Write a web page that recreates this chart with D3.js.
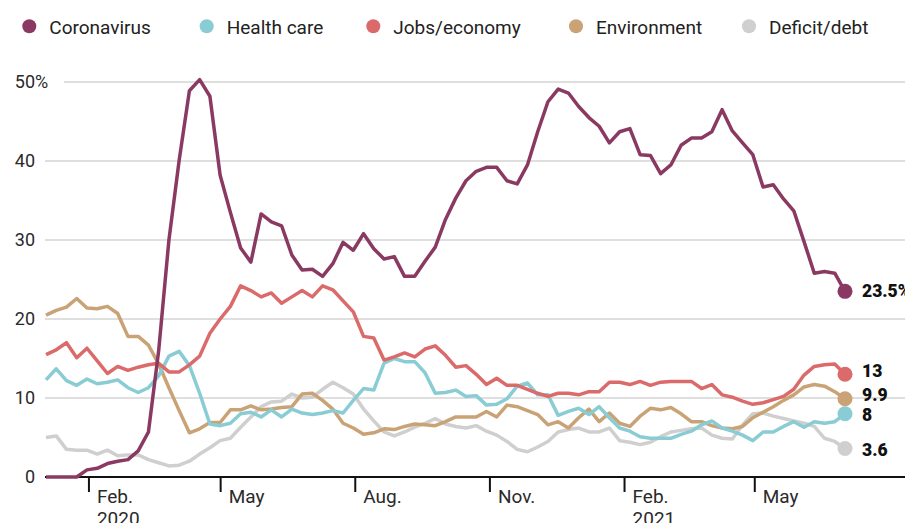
<!DOCTYPE html>
<html>
<head>
<meta charset="utf-8">
<script src="https://cdn.jsdelivr.net/npm/d3@7"></script>
<style>
  html, body { margin: 0; padding: 0; background: #fff; }
  svg { display: block; font-family: Roboto, "Open Sans", sans-serif; }
</style>
</head>
<body>
<svg id="chart" width="905" height="523"></svg>
<script>
// ---------- DATA ----------
const startDate = new Date(2020, 0, 3);   // first weekly observation
const weekCount = 79;

const seriesNames = ["Coronavirus", "Health care", "Jobs/economy", "Environment", "Deficit/debt"];

const coronavirus = [0,0,0,0,0.9,1.1,1.7,2.0,2.2,3.3,
  5.7,16,30.0,40.1,48.9,50.3,48.2,38.2,33.5,29.0,
  27.2,33.3,32.3,31.8,28.1,26.2,26.3,25.4,27.0,29.7,
  28.7,30.8,28.9,27.6,27.9,25.4,25.4,27.3,29.1,32.6,
  35.3,37.5,38.7,39.2,39.2,37.5,37.1,39.5,43.7,47.5,
  49.1,48.6,46.9,45.5,44.4,42.3,43.7,44.1,40.8,40.7,
  38.4,39.5,42.0,42.9,42.9,43.7,46.5,43.8,42.3,40.8,
  36.7,37.0,35.2,33.7,29.8,25.8,26.0,25.8,23.5];

const healthCare = [12.3,13.7,12.2,11.6,12.4,11.8,12.0,12.3,11.3,10.7,
  11.3,12.8,15.3,15.9,14.1,10.6,6.7,6.5,6.8,8.0,
  8.2,7.6,8.5,7.6,8.6,8.1,7.9,8.1,8.4,8.1,
  9.7,11.2,11.0,14.4,15.0,14.6,14.6,13.2,10.6,10.7,
  11.0,10.2,10.3,9.1,9.2,9.9,11.5,11.9,10.4,10.4,
  7.8,8.3,8.7,7.9,8.9,7.5,6.2,5.8,5.1,4.9,
  4.9,4.9,5.4,5.8,6.6,7.1,6.2,5.8,5.3,4.6,
  5.7,5.7,6.4,7.0,6.3,7.0,6.8,7.0,8.0];

const jobsEconomy = [15.5,16.1,17.0,15.1,16.3,14.7,13.1,14.0,13.5,13.9,
  14.2,14.4,13.3,13.3,14.2,15.3,18.2,20.0,21.6,24.2,
  23.6,22.8,23.3,22.0,22.8,23.6,22.8,24.2,23.7,22.3,
  20.9,17.8,17.6,14.8,15.2,15.7,15.2,16.2,16.6,15.4,
  13.9,14.1,13.0,11.7,12.5,11.6,11.6,11.1,10.6,10.2,
  10.6,10.6,10.4,10.8,10.8,12.0,12.0,11.7,12.1,11.6,
  12.0,12.1,12.1,12.1,11.2,11.7,10.4,10.1,9.6,9.2,
  9.4,9.8,10.2,11.1,12.9,14.0,14.2,14.3,13.0];

const environment = [20.5,21.1,21.5,22.6,21.4,21.3,21.6,20.7,17.8,17.8,
  16.7,14.3,11.3,8.4,5.6,6.1,6.9,6.9,8.5,8.5,
  9.0,8.5,8.6,8.8,8.9,10.5,10.6,9.7,8.6,6.8,
  6.2,5.4,5.6,6.1,6.0,6.4,6.7,6.6,6.5,7.0,
  7.6,7.6,7.6,8.3,7.6,9.1,8.9,8.4,7.9,6.6,
  7.0,6.2,7.5,8.6,7.0,8.1,6.8,6.4,7.7,8.7,
  8.5,8.8,8.0,7.0,7.0,6.5,6.2,6.1,6.4,7.5,
  8.2,8.9,9.7,10.4,11.4,11.7,11.5,10.8,9.9];

const deficitDebt = [5.0,5.2,3.5,3.4,3.4,2.9,3.4,2.7,2.8,2.8,
  2.2,1.8,1.4,1.5,2.0,2.9,3.7,4.6,4.9,6.3,
  7.6,8.9,9.5,9.6,10.5,10.0,10.1,11.1,12.0,11.3,
  10.5,8.6,7.1,5.7,5.2,5.7,6.3,6.8,7.4,6.7,
  6.4,6.2,6.5,5.8,5.3,4.5,3.5,3.2,3.8,4.5,
  5.7,6.0,6.2,5.7,5.7,6.2,4.6,4.4,4.1,4.4,
  5.1,5.7,5.9,6.1,6.2,5.3,4.9,4.8,6.6,8.0,
  8.1,7.7,7.4,7.1,6.8,6.4,4.9,4.5,3.6];

// end labels, same order as seriesNames
const endLabels = ["23.5%", "8", "13", "9.9", "3.6"];

const yTicks = [0, 10, 20, 30, 40, 50];
const xTickDates = [new Date(2020,1,1), new Date(2020,4,1), new Date(2020,7,1),
                    new Date(2020,10,1), new Date(2021,1,1), new Date(2021,4,1)];
const xTickLabels = [["Feb.", "2020"], ["May"], ["Aug."], ["Nov."], ["Feb.", "2021"], ["May"]];

// ---------- STYLE ----------
const colors = ["#8a3a62", "#89ccd4", "#db6a6b", "#c9a375", "#cfcfcf"];
const labelNudge = [0, 1.5, -3, -4, 1.5];
const drawOrder = [4, 3, 1, 2, 0];

// ---------- BUILD ----------
const values = [coronavirus, healthCare, jobsEconomy, environment, deficitDebt];
const dates = d3.range(weekCount).map(i => d3.timeDay.offset(startDate, 7 * i));
const series = seriesNames.map((name, k) => ({
  name, color: colors[k],
  points: dates.map((d, i) => ({ date: d, value: values[k][i] }))
}));

const svg = d3.select("#chart");

const x = d3.scaleTime()
  .domain([startDate, new Date(2021, 7, 12)])
  .range([46, 905]);
const y = d3.scaleLinear().domain([0, 50]).range([477, 82]);

// gridlines
svg.append("g").selectAll("line")
  .data(yTicks.filter(t => t > 0))
  .join("line")
  .attr("x1", d => d === 50 ? 64 : 45)
  .attr("x2", 905)
  .attr("y1", d => y(d)).attr("y2", d => y(d))
  .attr("stroke", "#d4d4d4").attr("stroke-width", 1.5);

// y labels
const yl = svg.append("g").attr("font-size", 18).attr("fill", "#2a2a2a");
yl.selectAll("text").data(yTicks).join("text")
  .attr("x", 35).attr("y", d => y(d)).attr("dy", "0.35em")
  .attr("text-anchor", "end")
  .text(d => d);
yl.append("text").attr("x", 35).attr("y", y(50)).attr("dy", "0.35em").text("%");

// x axis
const xAxis = d3.axisBottom(x)
  .tickValues(xTickDates)
  .tickSize(15)
  .tickSizeOuter(0)
  .tickFormat(() => "");
const gx = svg.append("g").attr("transform", `translate(0,${y(0)})`).call(xAxis);
gx.select(".domain").attr("stroke", "#111").attr("stroke-width", 2)
  .attr("d", `M45,0H905`);
gx.selectAll(".tick line").attr("stroke", "#111").attr("stroke-width", 2);
gx.selectAll(".tick text").remove();
gx.selectAll(".tick").each(function(d, i) {
  const g = d3.select(this);
  xTickLabels[i].forEach((s, j) => {
    g.append("text")
      .attr("x", 8).attr("y", 26 + j * 21.5)
      .attr("text-anchor", "start")
      .attr("font-size", 19)
      .attr("font-family", "Roboto, 'Open Sans', sans-serif")
      .attr("fill", "#2a2a2a")
      .text(s);
  });
});

// lines
const line = d3.line().x(d => x(d.date)).y(d => y(d.value));
svg.append("g").selectAll("path")
  .data(drawOrder.map(k => series[k]))
  .join("path")
  .attr("d", d => line(d.points))
  .attr("fill", "none")
  .attr("stroke", d => d.color)
  .attr("stroke-width", 3.5)
  .attr("stroke-linejoin", "round");

// end dots & labels
const ends = svg.append("g");
series.forEach((s, k) => {
  const last = s.points[s.points.length - 1];
  ends.append("circle")
    .attr("cx", x(last.date)).attr("cy", y(last.value))
    .attr("r", 7.5).attr("fill", s.color);
  ends.append("text")
    .attr("x", x(last.date) + 17).attr("y", y(last.value) + labelNudge[k])
    .attr("dy", "0.35em")
    .attr("font-size", 17.5).attr("font-weight", 900)
    .attr("fill", "#111")
    .text(endLabels[k]);
});

// legend
const legendX = [29.3, 206.7, 373.3, 576, 749];
const lg = svg.append("g");
series.forEach((s, k) => {
  lg.append("circle").attr("cx", legendX[k]).attr("cy", 26.3).attr("r", 7).attr("fill", s.color);
  lg.append("text").attr("x", legendX[k] + 20).attr("y", 33.5)
    .attr("font-size", 19).attr("fill", "#222").text(s.name);
});
</script>
</body>
</html>
